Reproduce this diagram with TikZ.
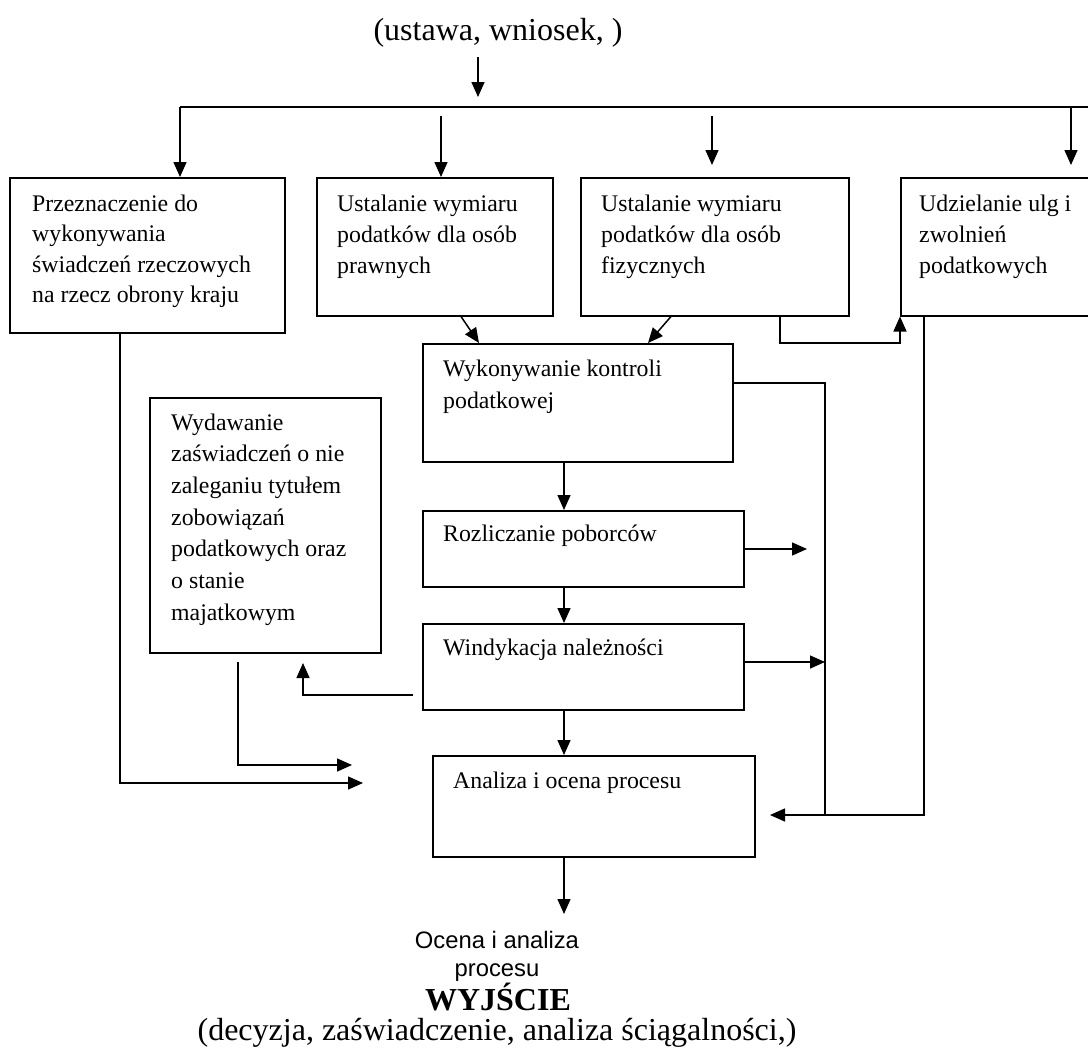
\documentclass[tikz,border=0pt]{standalone}
\usepackage{fontspec}
\setmainfont{Liberation Serif}
\newfontfamily\arialf{Liberation Sans}
\usetikzlibrary{arrows.meta}
\begin{document}
\begin{tikzpicture}[x=1pt,y=-1pt,
  boxst/.style={draw, line width=1.5pt, inner sep=0pt, anchor=north west},
  txt/.style={inner sep=0pt, anchor=base west, font=\fontsize{23.8}{31}\selectfont},
  big/.style={inner sep=0pt, anchor=base, font=\fontsize{32}{36}\selectfont},
  ln/.style={line width=1.5pt, line join=miter},
  arr/.style={ln, -{Triangle[length=15pt,width=13pt]}}]
\useasboundingbox (0,0) rectangle (1088,1053);
\clip (0,0) rectangle (1088,1053);
% boxes
\node[boxst, minimum width=275pt, minimum height=155pt] (b1) at (9,177) {};
\node[boxst, minimum width=236pt, minimum height=138pt] (b2) at (316,177) {};
\node[boxst, minimum width=268pt, minimum height=138pt] (b3) at (580,177) {};
\node[boxst, minimum width=200pt, minimum height=138pt] (b4) at (900,177) {};
\node[boxst, minimum width=310pt, minimum height=118pt] (b5) at (422,343) {};
\node[boxst, minimum width=321pt, minimum height=76pt] (b6) at (422,510) {};
\node[boxst, minimum width=321pt, minimum height=86pt] (b7) at (422,623) {};
\node[boxst, minimum width=322pt, minimum height=101pt] (b8) at (432,755) {};
\node[boxst, minimum width=231pt, minimum height=255pt] (b9) at (149,397) {};
% box texts
\node[txt, font=\fontsize{23.8}{30.6}\selectfont] (t1) at (32,211) {\begin{tabular}[t]{@{}l@{}}Przeznaczenie do\\wykonywania\\świadczeń rzeczowych\\na rzecz obrony kraju\end{tabular}};
\node[txt] (t2) at (337,211) {\begin{tabular}[t]{@{}l@{}}Ustalanie wymiaru\\podatków dla osób\\prawnych\end{tabular}};
\node[txt] (t3) at (601,211) {\begin{tabular}[t]{@{}l@{}}Ustalanie wymiaru\\podatków dla osób\\fizycznych\end{tabular}};
\node[txt] (t4) at (919,211) {\begin{tabular}[t]{@{}l@{}}Udzielanie ulg i\\zwolnień\\podatkowych\end{tabular}};
\node[txt, font=\fontsize{23.8}{32}\selectfont] (t5) at (443,376) {\begin{tabular}[t]{@{}l@{}}Wykonywanie kontroli\\podatkowej\end{tabular}};
\node[txt] (t6) at (443,541) {Rozliczanie poborców};
\node[txt] (t7) at (443,655) {Windykacja należności};
\node[txt] (t8) at (453,788) {Analiza i ocena procesu};
\node[txt, font=\fontsize{23.8}{31.7}\selectfont] (t9) at (171,430) {\begin{tabular}[t]{@{}l@{}}Wydawanie\\zaświadczeń o nie\\zaleganiu tytułem\\zobowiązań\\podatkowych oraz\\o stanie\\majatkowym\end{tabular}};
% top and bottom texts
\node[big] (in) at (498,40) {(ustawa, wniosek, )};
\node[inner sep=0pt, anchor=base, font=\arialf\fontsize{23.8}{28}\selectfont] (oc) at (497,948) {\begin{tabular}[t]{@{}c@{}}Ocena i analiza\\procesu\end{tabular}};
\node[big, font=\fontsize{32}{36}\selectfont\bfseries] (wy) at (498,1010) {WYJŚCIE};
\node[big] (dec) at (497,1040) {(decyzja, zaświadczenie, analiza ściągalności,)};
% coordinates
\coordinate (inTop) at (478,57);
\coordinate (inBot) at (478,97);
\coordinate (busL) at (180,107);
\coordinate (busR) at (1088,107);
\coordinate (a2) at (441,116);
\coordinate (a3s) at (712,116);
\coordinate (a3e) at (712,165);
\coordinate (a4e) at (1071,165);
\coordinate (X461) at (461,0);
\coordinate (X479) at (479,0);
\coordinate (X671) at (671,0);
\coordinate (X648) at (648,0);
\coordinate (X564) at (564,0);
\coordinate (k1) at (780,343);
\coordinate (k2) at (900,343);
\coordinate (m1) at (924,815);
\coordinate (m2) at (770,815);
\coordinate (r1) at (825,383);
\coordinate (r2) at (825,815);
\coordinate (p1) at (807,549);
\coordinate (p2) at (825,662);
\coordinate (q1) at (413,695);
\coordinate (q2) at (303,695);
\coordinate (q3) at (303,663);
\coordinate (s1) at (238,662);
\coordinate (s2) at (238,765);
\coordinate (s3) at (352,765);
\coordinate (u1) at (120,783);
\coordinate (u2) at (363,783);
\coordinate (o1) at (564,914);
% connectors
\draw[arr] (inTop) -- (inBot);
\draw[ln] (busL) -- (busR);
\draw[arr] (busL) -- (b1.north -| busL);
\draw[arr] (a2) -- (b2.north -| a2);
\draw[arr] (a3s) -- (a3e);
\draw[arr] (busR -| a4e) -- (a4e);
\draw[arr] (b2.south -| X461) -- (b5.north -| X479);
\draw[arr] (b3.south -| X671) -- (b5.north -| X648);
\draw[arr] (b3.south -| k1) -- (k1) -- (k2) -- (b4.south west);
\draw[arr] (b4.south -| m1) -- (m1) -- (m2);
\draw[ln] (b5.east |- r1) -- (r1) -- (r2);
\draw[arr] (b5.south -| X564) -- (b6.north -| X564);
\draw[arr] (b6.south -| X564) -- (b7.north -| X564);
\draw[arr] (b7.south -| X564) -- (b8.north -| X564);
\draw[arr] (b6.east |- p1) -- (p1);
\draw[arr] (b7.east |- p2) -- (p2);
\draw[arr] (q1) -- (q2) -- (q3);
\draw[arr] (s1) -- (s2) -- (s3);
\draw[arr] (b1.south -| u1) -- (u1) -- (u2);
\draw[arr] (b8.south -| o1) -- (o1);
\end{tikzpicture}
\end{document}
